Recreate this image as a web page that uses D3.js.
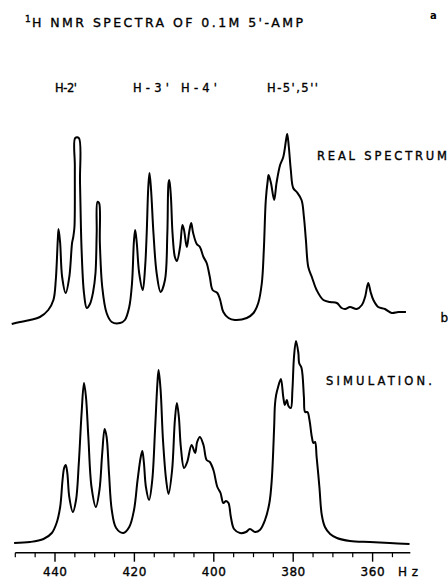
<!DOCTYPE html>
<html><head><meta charset="utf-8">
<script src="https://cdn.jsdelivr.net/npm/d3@7"></script>
<style>html,body{margin:0;padding:0;background:#fff;}svg{display:block;}</style>
</head><body>
<script>
// Real spectrum: [Hz, intensity]
const realSpectrum = [
[450.9,1],[448.8,3],[446.3,5],[443.8,8],[441.7,15],[440.4,25],[439.8,45],[439.3,85],[439.1,96],[438.7,82],
[438.2,48],[437.3,32],[436.4,48],[435.7,82],[435.4,88],[435.1,98],[435.0,158],[434.9,187],[434.0,187],[433.7,142],
[433.3,75],[432.7,32],[432.0,17],[431.2,21],[430.4,33],[429.8,52],[429.5,92],[429.3,123],[428.9,122],[428.7,82],
[428.1,38],[427.0,12],[425.7,3],[423.6,2],[422.4,5],[421.3,18],[420.6,42],[420.1,85],[419.8,95],[419.4,82],
[418.8,52],[417.9,35],[417.3,58],[416.9,92],[416.5,138],[416.2,152],[415.8,135],[415.2,92],[414.4,52],[413.4,33],
[412.3,45],[411.7,92],[411.4,142],[411.2,145],[410.8,128],[410.4,92],[409.8,68],[409.3,64],[408.5,78],[407.9,100],
[407.5,95],[406.8,78],[406.2,93],[405.7,102],[405.2,92],[404.3,81],[403.5,78],[402.6,68],[401.8,62],[401.0,48],
[400.3,35],[399.1,32],[398.4,25],[397.6,13],[396.3,7],[394.7,5],[391.7,7],[390.0,12],[388.8,22],[387.9,42],
[387.4,75],[386.9,125],[386.4,145],[386.2,150],[385.6,142],[384.8,125],[384.2,142],[383.3,160],[382.5,168],[381.8,185],
[381.5,191],[381.1,178],[380.6,155],[380.0,137],[379.1,133],[377.9,125],[377.3,108],[376.8,85],[376.2,58],[375.3,48],
[374.1,35],[372.4,25],[370.7,23],[369.0,22],[367.8,17],[366.9,16],[365.7,18],[364.0,16],[362.7,20],[361.9,28],
[361.1,42],[360.5,33],[359.8,25],[358.6,18],[356.9,16],[355.2,12],[353.5,13],[351.6,13]
];
// Simulated spectrum: [Hz, intensity]
const simSpectrum = [
[450.3,2],[446.3,3],[442.9,6],[440.8,12],[439.6,22],[438.7,38],[438.1,65],[437.7,77],[437.3,80],[436.9,72],
[436.4,48],[435.5,33],[434.7,45],[434.0,82],[433.3,132],[432.7,162],[432.2,148],[431.6,108],[430.8,58],[429.7,38],
[428.8,55],[428.1,92],[427.5,116],[427.0,108],[426.4,72],[425.7,35],[424.6,17],[422.8,12],[421.3,18],[420.1,35],
[419.2,65],[418.4,88],[418.0,94],[417.6,82],[417.1,58],[416.3,45],[415.5,65],[414.8,115],[414.2,162],[413.9,175],
[413.4,155],[412.8,105],[412.0,65],[411.4,51],[410.5,75],[409.8,125],[409.3,142],[408.8,128],[408.3,98],[407.5,77],
[406.7,83],[405.6,100],[404.7,92],[404.2,103],[403.5,108],[402.6,100],[401.8,85],[401.0,83],[400.1,75],[399.1,58],
[398.3,52],[397.6,42],[396.9,44],[396.3,42],[395.7,28],[394.9,16],[393.4,12],[391.9,13],[390.9,16],[389.6,13],
[388.4,15],[387.1,25],[386.0,42],[385.4,65],[384.8,118],[384.6,140],[384.3,150],[383.8,158],[383.1,166],[382.5,148],
[382.1,140],[381.6,145],[381.2,139],[380.6,137],[380.2,155],[379.8,188],[379.3,204],[378.7,192],[378.5,182],[377.9,177],
[377.3,148],[377.0,133],[376.4,133],[375.9,125],[375.3,108],[374.9,102],[374.5,103],[374.1,88],[373.4,58],[372.8,30],
[372.0,18],[370.7,11],[369.0,7],[365.7,4],[360.7,3],[355.7,2],[350.7,1]
];
const majorTicks = [440, 420, 400, 380, 360];
const minorTicks = [450,445,435,430,425,415,410,405,395,390,385,375,370,365,355];
const tickLabels = ["440", "420", "400", "380", "360"];
const peakLabels = ["H-2'", "H-3' H-4'", "H-5',5''"];

const W = 448, H = 578;
const svg = d3.select("body").append("svg").attr("width", W).attr("height", H);
const font = "'DejaVu Sans', sans-serif";

const x = d3.scaleLinear().domain([450, 350]).range([15.3, 412.3]);
const yReal = d3.scaleLinear().domain([0, 200]).range([325, 125]);
const ySim = d3.scaleLinear().domain([0, 200]).range([545, 345]);

const lineReal = d3.line().x(d => x(d[0])).y(d => yReal(d[1])).curve(d3.curveCatmullRom.alpha(0.5));
const lineSim = d3.line().x(d => x(d[0])).y(d => ySim(d[1])).curve(d3.curveCatmullRom.alpha(0.5));

svg.append("path").datum(realSpectrum).attr("d", lineReal)
  .attr("fill", "none").attr("stroke", "#000").attr("stroke-width", 2).attr("stroke-linejoin", "round");
svg.append("path").datum(simSpectrum).attr("d", lineSim)
  .attr("fill", "none").attr("stroke", "#000").attr("stroke-width", 2).attr("stroke-linejoin", "round");

function txt(xp, yp, s, size, len) {
  const e = svg.append("text").attr("x", xp).attr("y", yp).attr("font-family", font)
    .attr("font-size", size).attr("fill", "#000").attr("stroke", "#000").attr("stroke-width", 0.35).text(s);
  if (len) e.attr("textLength", len).attr("lengthAdjust", "spacing");
  return e;
}

// Axis
const axisY = 552.7;
const ax = svg.append("g");
ax.append("line").attr("x1", x(450)).attr("x2", x(350.5)).attr("y1", axisY).attr("y2", axisY)
  .attr("stroke", "#000").attr("stroke-width", 1.6);
ax.selectAll("line.minor").data(minorTicks).join("line").attr("class", "minor")
  .attr("x1", d => x(d)).attr("x2", d => x(d)).attr("y1", axisY).attr("y2", axisY + 4.5)
  .attr("stroke", "#000").attr("stroke-width", 1.2);
ax.selectAll("line.major").data(majorTicks).join("line").attr("class", "major")
  .attr("x1", d => x(d)).attr("x2", d => x(d)).attr("y1", axisY).attr("y2", axisY + 9)
  .attr("stroke", "#000").attr("stroke-width", 1.4);
majorTicks.forEach((d, i) => {
  txt(x(d) - 12, 576, tickLabels[i], 12, 24);
});
txt(398, 576, "Hz", 12, 20);

// Title
txt(25, 22, "1", 9);
txt(32, 27, "H NMR SPECTRA OF 0.1M 5'-AMP", 12.5, 271);
svg.append("text").attr("x", 430).attr("y", 18.5).attr("font-family", font).attr("font-size", 10)
  .attr("font-weight", "bold").text("a");

// Peak labels
const plX = [[55, 22], [133, 84], [267, 51]];
peakLabels.forEach((d, i) => txt(plX[i][0], 92, d, 11.5, plX[i][1]));

txt(317, 160, "REAL SPECTRUM", 11.5, 130);
txt(440.5, 322, "b", 12);
txt(326, 385, "SIMULATION.", 11.5, 106);
</script>
</body></html>
